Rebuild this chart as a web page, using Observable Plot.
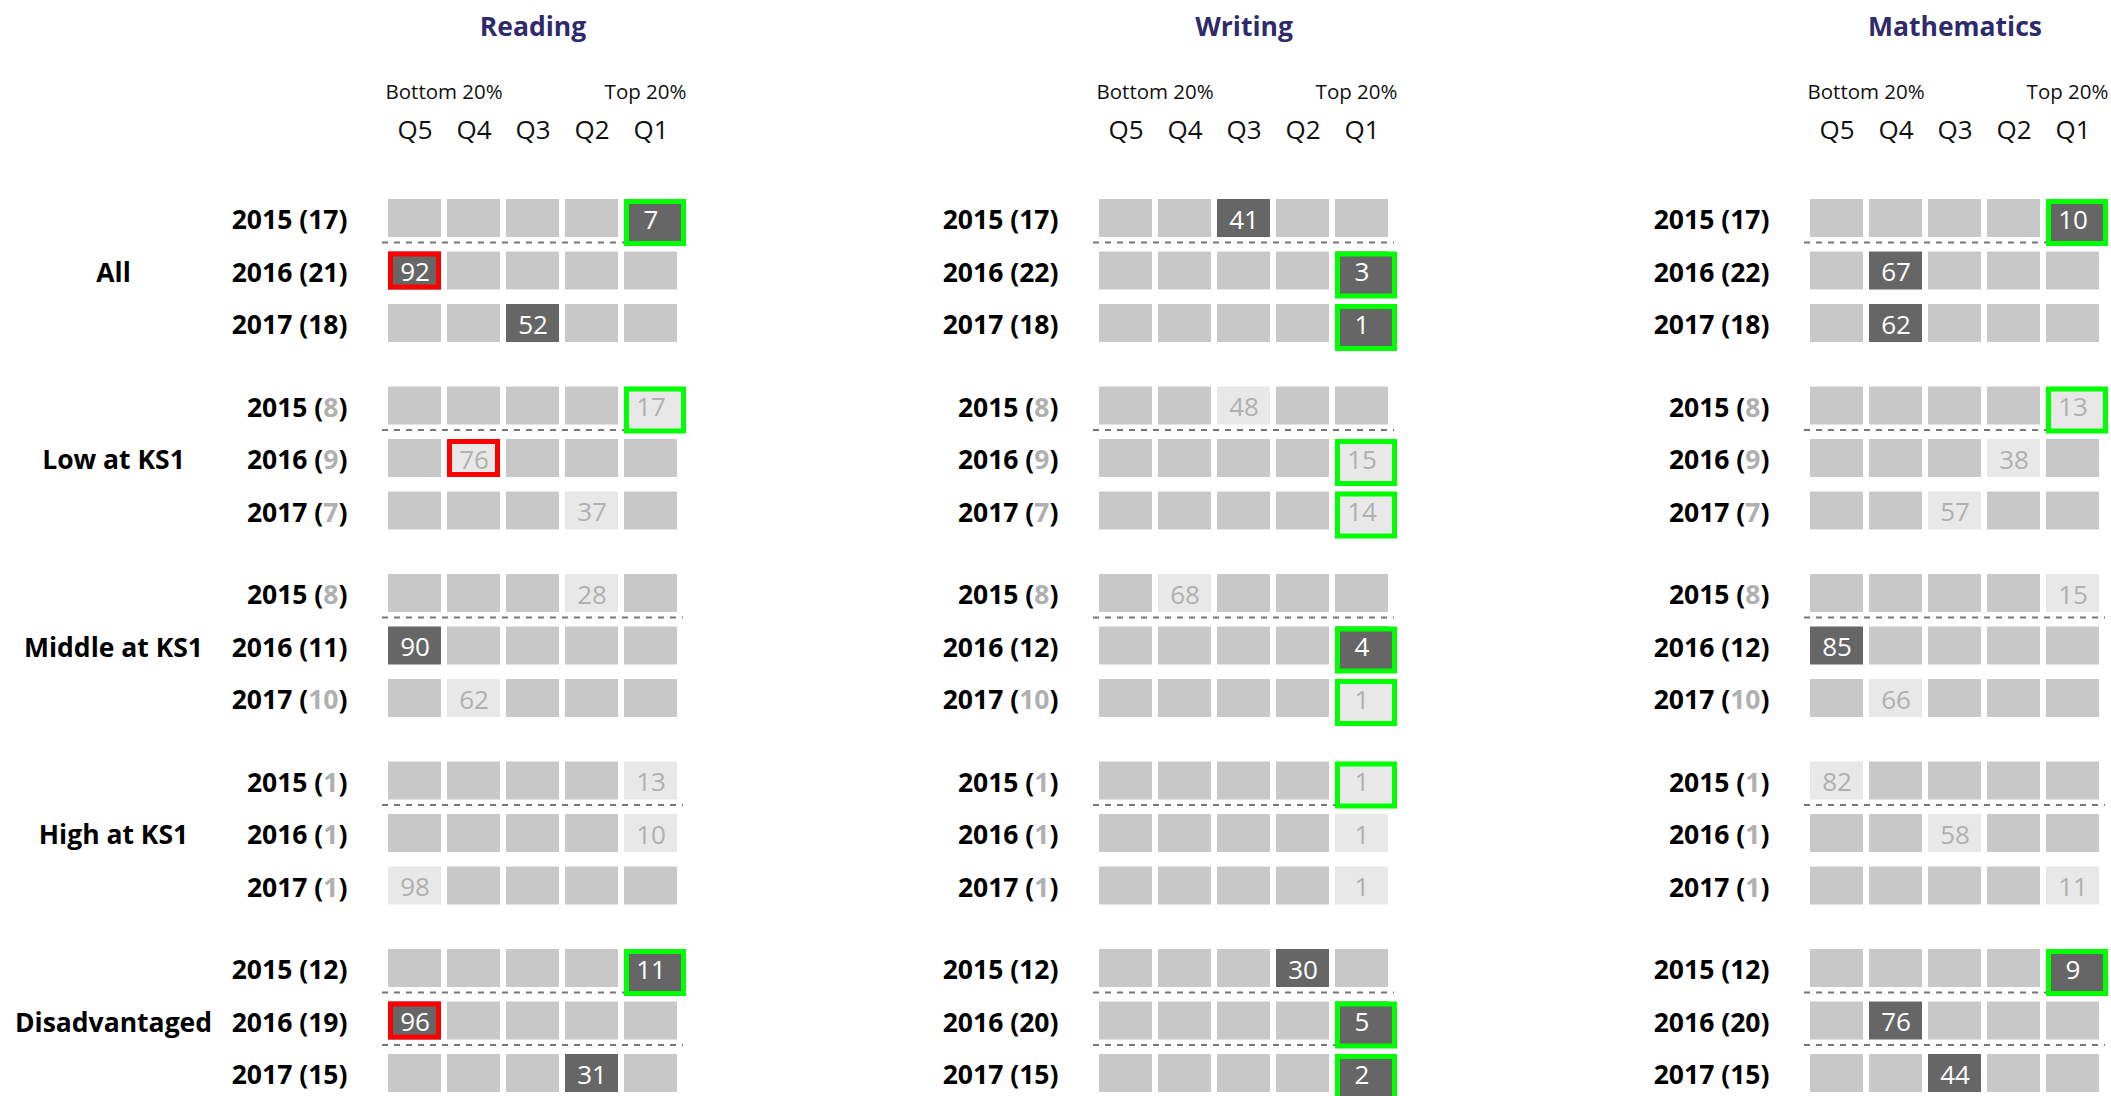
<!DOCTYPE html>
<html>
<head>
<meta charset="utf-8">
<script src="https://cdn.jsdelivr.net/npm/d3@7"></script>
<script src="https://cdn.jsdelivr.net/npm/@observablehq/plot@0.6"></script>
<style>
  html, body { margin: 0; padding: 0; background: #fff; }
  body { width: 2111px; height: 1096px; overflow: hidden; }
  #chart svg { display: block; }
</style>
</head>
<body>
<div id="chart"></div>
<script>
// ---------------- DATA ----------------
const subjects = ["Reading", "Writing", "Mathematics"];
const groups = ["All", "Low at KS1", "Middle at KS1", "High at KS1", "Disadvantaged"];
const years = ["2015", "2016", "2017"];
const quintiles = ["Q5", "Q4", "Q3", "Q2", "Q1"];
const bottomLabel = "Bottom 20%";
const topLabel = "Top 20%";

// number of pupils (rows = groups, columns = years)
const pupilsReading = [[17, 21, 18], [8, 9, 7], [8, 11, 10], [1, 1, 1], [12, 19, 15]];
const pupilsWriting = [[17, 22, 18], [8, 9, 7], [8, 12, 10], [1, 1, 1], [12, 20, 15]];
const pupilsMaths   = [[17, 22, 18], [8, 9, 7], [8, 12, 10], [1, 1, 1], [12, 20, 15]];

// percentile rank shown in the cell (rows = groups, columns = years)
const rankReading = [[7, 92, 52], [17, 76, 37], [28, 90, 62], [13, 10, 98], [11, 96, 31]];
const rankWriting = [[41, 3, 1], [48, 15, 14], [68, 4, 1], [1, 1, 1], [30, 5, 2]];
const rankMaths   = [[10, 67, 62], [13, 38, 57], [15, 85, 66], [82, 58, 11], [9, 76, 44]];

// highlight: "g" = green box, "r" = red box, "" = none
const flagReading = [["g", "r", ""], ["g", "r", ""], ["", "", ""], ["", "", ""], ["g", "r", ""]];
const flagWriting = [["", "g", "g"], ["", "g", "g"], ["", "g", "g"], ["g", "", ""], ["", "g", "g"]];
const flagMaths   = [["g", "", ""], ["g", "", ""], ["", "", ""], ["", "", ""], ["g", "", ""]];

// dashed separator drawn below these years (per group)
const separatorsAfter = [["2015"], ["2015"], ["2015"], ["2015"], ["2015", "2016"]];

const smallSampleMax = 10;

// ---------------- TABLES ----------------
const bySubject = {
  Reading: {n: pupilsReading, rank: rankReading, flag: flagReading},
  Writing: {n: pupilsWriting, rank: rankWriting, flag: flagWriting},
  Mathematics: {n: pupilsMaths, rank: rankMaths, flag: flagMaths}
};

const rows = [];
subjects.forEach(s => groups.forEach((g, gi) => years.forEach((y, yi) => {
  const src = bySubject[s];
  const n = src.n[gi][yi];
  const rank = src.rank[gi][yi];
  rows.push({
    subject: s, group: g, year: y, n, rank,
    flag: src.flag[gi][yi],
    quintile: "Q" + Math.ceil(rank / 20),
    small: n <= smallSampleMax
  });
})));

const cells = rows.flatMap(r => quintiles.map(q => ({...r, q, hit: q === r.quintile})));
const hitFill = d => d.small ? "#e8e8e8" : "#666666";
const cellFill = d => !d.hit ? "#c8c8c8" : hitFill(d);

const separators = subjects.flatMap(s => groups.flatMap((g, gi) =>
  separatorsAfter[gi].map(y => ({subject: s, group: g, year: y}))));

const qLabels = subjects.flatMap(s => quintiles.map(q => ({subject: s, q})));

// ---------------- PLOT ----------------
const plot = Plot.plot({
  width: 2111,
  height: 1096,
  marginTop: 0, marginRight: 0, marginBottom: 0, marginLeft: 0,
  style: {fontFamily: "'Open Sans', sans-serif", background: "white", overflow: "visible"},
  fx: {domain: subjects, range: [382, 2105], paddingInner: 410 / 711, paddingOuter: 0, axis: null, label: null, round: false},
  fy: {domain: groups, range: [199, 1092], paddingInner: 44.5 / 187.5, paddingOuter: 0, axis: null, label: null, round: false},
  x: {domain: quintiles, padding: 6 / 59, axis: null, label: null, round: false},
  y: {domain: years, paddingInner: 14.5 / 52.5, paddingOuter: 0, axis: null, label: null, round: false},
  marks: [
    Plot.cell(cells, {fx: "subject", fy: "group", x: "q", y: "year", fill: cellFill}),
    Plot.ruleY(separators, {fx: "subject", fy: "group", y: "year", dy: 24,
      stroke: "#777777", strokeWidth: 2, strokeDasharray: "6,6"}),
    Plot.cell(rows.filter(r => r.flag === "g"), {fx: "subject", fy: "group", x: "quintile", y: "year",
      fill: hitFill, stroke: "#00ff00", strokeWidth: 5,
      insetLeft: 2.5, insetTop: 2.5, insetRight: -6.5, insetBottom: -6.5}),
    Plot.cell(rows.filter(r => r.flag === "r"), {fx: "subject", fy: "group", x: "quintile", y: "year",
      fill: hitFill, stroke: "#ff0000", strokeWidth: 5, inset: 2.5}),
    Plot.text(rows, {fx: "subject", fy: "group", x: "quintile", y: "year", dy: 2,
      text: d => String(d.rank), fill: d => d.small ? "#b0b0b0" : "#ffffff", fontSize: 26}),
    Plot.text(rows, {fx: "subject", fy: "group", y: "year", frameAnchor: "left", textAnchor: "end", dx: -35, dy: 2.5,
      text: d => `${d.year} (${d.n})`, fontSize: 26.5, fontWeight: "bold", fill: "#000"}),
    Plot.text(groups, {fx: () => "Reading", fy: d => d, y: () => "2016", frameAnchor: "left",
      textAnchor: "middle", dx: -269, dy: 2.5, text: d => d, fontSize: 26.5, fontWeight: "bold", fill: "#000"}),
    Plot.text(subjects, {fx: d => d, fy: () => "All", y: () => "2015", dy: -190.5, lineAnchor: "middle",
      text: d => d, fontSize: 26.5, fontWeight: "bold", fill: "#2f2a6b"}),
    Plot.text(qLabels, {fx: "subject", fy: () => "All", x: "q", y: () => "2015", dy: -87.5,
      text: "q", fontSize: 26, fill: "#111"}),
    Plot.text(subjects, {fx: d => d, fy: () => "All", x: () => "Q5", y: () => "2015", dx: -29.5, dy: -126.5,
      textAnchor: "start", text: () => bottomLabel, fontSize: 20.5, fill: "#111"}),
    Plot.text(subjects, {fx: d => d, fy: () => "All", x: () => "Q1", y: () => "2015", dx: 35.5, dy: -126.5,
      textAnchor: "end", text: () => topLabel, fontSize: 20.5, fill: "#111"})
  ]
});

// colour the pupil counts of small samples in grey
d3.select(plot).selectAll("text").each(function() {
  const t = this.textContent;
  const m = t.match(/^(20\d\d) \((\d+)\)$/);
  if (!m) return;
  const small = +m[2] <= smallSampleMax;
  const sel = d3.select(this);
  sel.text(null);
  sel.append("tspan").text(`${m[1]} (`);
  const mid = sel.append("tspan").text(m[2]);
  if (small) mid.attr("fill", "#b0b0b0");
  sel.append("tspan").text(")");
});

document.getElementById("chart").appendChild(plot);
</script>
</body>
</html>
